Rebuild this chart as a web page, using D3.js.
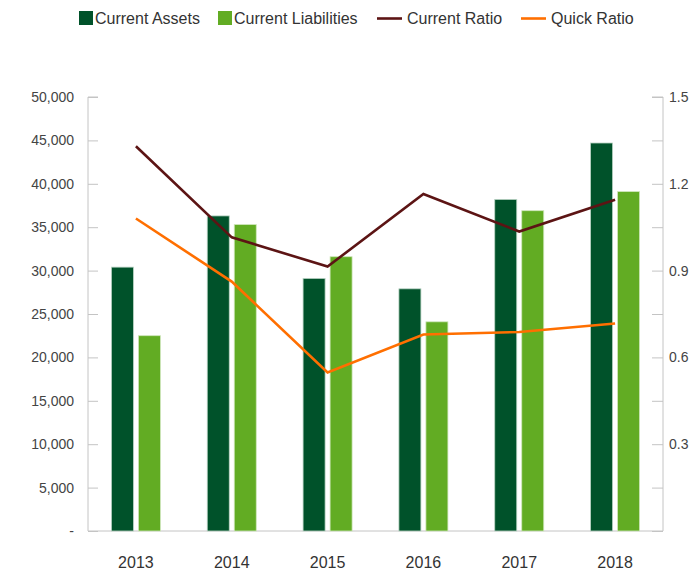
<!DOCTYPE html>
<html>
<head>
<meta charset="utf-8">
<script src="https://cdn.jsdelivr.net/npm/d3@7"></script>
<style>
  body { margin: 0; background: #fff; }
  text { font-family: "Liberation Sans", Arial, sans-serif; }
</style>
</head>
<body>
<div id="chart"></div>
<script>
// datos
const years = ["2013", "2014", "2015", "2016", "2017", "2018"]
const currentAssets = [30400, 36300, 29100, 27900, 38200, 44700]
const currentLiabilities = [22500, 35300, 31600, 24100, 36900, 39100]
const currentRatio = [1.33, 1.015, 0.914, 1.165, 1.035, 1.145]
const quickRatio = [1.08, 0.862, 0.548, 0.679, 0.688, 0.717]
const leftTicks = [0, 5000, 10000, 15000, 20000, 25000, 30000, 35000, 40000, 45000, 50000]
const rightTicks = [0, 0.15, 0.3, 0.45, 0.6, 0.75, 0.9, 1.05, 1.2, 1.35, 1.5]

const ancho = 699
const alto = 582
const margen = { superior: 97, inferior: 51, izquierdo: 88, derecho: 36 }

const colores = { assets: "#00522A", liab: "#62AC23", cr: "#5C1414", qr: "#FF6F00" }

const svg = d3.select("#chart").append("svg").attr("width", ancho).attr("height", alto)

const x = d3.scaleBand().domain(years).range([margen.izquierdo, ancho - margen.derecho])
const y = d3.scaleLinear().domain([0, 50000]).range([alto - margen.inferior, margen.superior])
const y2 = d3.scaleLinear().domain([0, 1.5]).range([alto - margen.inferior, margen.superior])

const fmt = d3.format(",")

// eje izquierdo
const ejeY = d3.axisRight(y).tickValues(leftTicks).tickSize(10).tickFormat("")
const gY = svg.append("g").attr("transform", `translate(${margen.izquierdo},0)`).call(ejeY)
gY.selectAll("line, path").attr("stroke", "#c4c4c4")
gY.select("path").attr("d", `M10,${y(50000)}H0V${y(0)}`)
svg.append("g").selectAll("text").data(leftTicks).enter().append("text")
  .attr("x", 74).attr("y", d => y(d)).attr("dy", "0.35em")
  .attr("text-anchor", "end").attr("font-size", 14).attr("fill", "#444")
  .text(d => d === 0 ? "-" : fmt(d))

// eje derecho
const xr = ancho - margen.derecho
const ejeY2 = d3.axisLeft(y2).tickValues(rightTicks).tickSize(11).tickFormat("")
const gY2 = svg.append("g").attr("transform", `translate(${xr},0)`).call(ejeY2)
gY2.selectAll("line, path").attr("stroke", "#c4c4c4")
gY2.select("path").attr("d", `M-11,${y2(1.5)}H0V${y2(0)}`)
svg.append("g").selectAll("text").data(rightTicks.filter((d, i) => i % 2 === 0 && d > 0)).enter().append("text")
  .attr("x", xr + 6).attr("y", d => y2(d)).attr("dy", "0.35em")
  .attr("font-size", 14).attr("fill", "#444")
  .text(d => d.toFixed(1))

// eje x
const ejeX = d3.axisBottom(x).tickSize(0).tickPadding(25)
const gX = svg.append("g").attr("transform", `translate(0,${alto - margen.inferior})`).call(ejeX)
gX.select("path").attr("stroke", "#c4c4c4").attr("d", `M${margen.izquierdo},0H${xr}`)
gX.selectAll("text").attr("font-size", 16).attr("fill", "#333").attr("dy", null).attr("y", 37)
  .attr("font-family", "Liberation Sans, Arial, sans-serif")

// barras
const bw = 22, gap = 5
const barras = svg.append("g")
barras.selectAll(".a").data(years).enter().append("rect")
  .attr("x", d => x(d) + x.bandwidth() / 2 - gap / 2 - bw)
  .attr("y", (d, i) => y(currentAssets[i]))
  .attr("width", bw)
  .attr("height", (d, i) => y(0) - y(currentAssets[i]))
  .attr("fill", colores.assets).attr("stroke", "#b9d3c4").attr("stroke-width", 0.8)
barras.selectAll(".l").data(years).enter().append("rect")
  .attr("x", d => x(d) + x.bandwidth() / 2 + gap / 2)
  .attr("y", (d, i) => y(currentLiabilities[i]))
  .attr("width", bw)
  .attr("height", (d, i) => y(0) - y(currentLiabilities[i]))
  .attr("fill", colores.liab).attr("stroke", "#cfe6bb").attr("stroke-width", 0.8)

// lineas
const linea = d3.line().x((d, i) => x(years[i]) + x.bandwidth() / 2).y(d => y2(d))
svg.append("path").datum(currentRatio).attr("d", linea)
  .attr("fill", "none").attr("stroke", colores.cr).attr("stroke-width", 2.6)
svg.append("path").datum(quickRatio).attr("d", linea)
  .attr("fill", "none").attr("stroke", colores.qr).attr("stroke-width", 2.6)

// leyenda
const leyenda = [
  { nombre: "Current Assets", tipo: "rect", color: colores.assets, x: 79 },
  { nombre: "Current Liabilities", tipo: "rect", color: colores.liab, x: 218 },
  { nombre: "Current Ratio", tipo: "line", color: colores.cr, x: 377 },
  { nombre: "Quick Ratio", tipo: "line", color: colores.qr, x: 521 }
]
const gL = svg.append("g")
leyenda.forEach(l => {
  if (l.tipo === "rect") {
    gL.append("rect").attr("x", l.x).attr("y", 11).attr("width", 14).attr("height", 14).attr("fill", l.color)
    gL.append("text").attr("x", l.x + 16).attr("y", 24)
      .attr("font-size", 16).attr("fill", "#333").text(l.nombre)
  } else {
    gL.append("line").attr("x1", l.x).attr("x2", l.x + 25).attr("y1", 18.5).attr("y2", 18.5)
      .attr("stroke", l.color).attr("stroke-width", 2.6)
    gL.append("text").attr("x", l.x + 30).attr("y", 24)
      .attr("font-size", 16).attr("fill", "#333").text(l.nombre)
  }
})
</script>
</body>
</html>
